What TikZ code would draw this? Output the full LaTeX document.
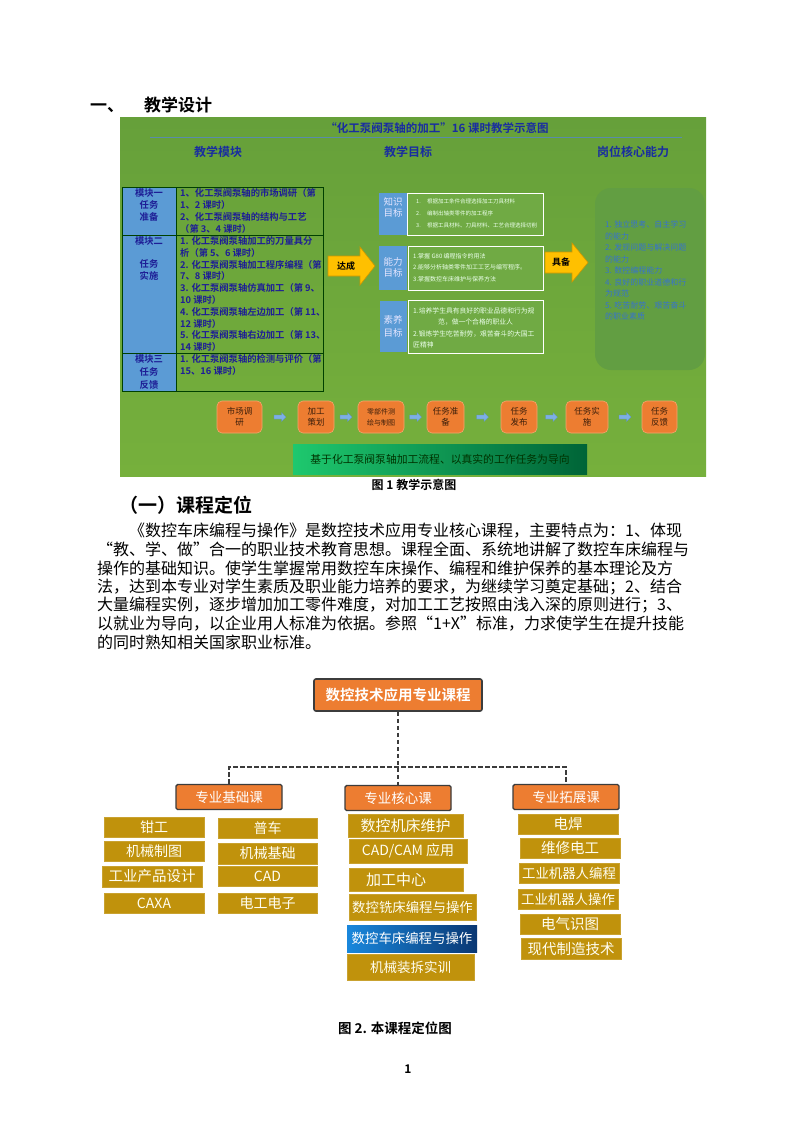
\documentclass[tikz,border=0pt]{standalone}
\usepackage{fontspec}
\setmainfont{Noto Sans CJK SC}[BoldFont={Noto Sans CJK SC Bold}]
\XeTeXinterchartokenstate=1
\XeTeXinterchartoks 1 1 = {\hskip 0pt plus 1pt\relax}
\XeTeXinterchartoks 1 2 = {\hskip 0pt plus 1pt\relax}
\XeTeXinterchartoks 1 3 = {\hskip 0pt plus 1pt\relax}
\XeTeXinterchartoks 3 1 = {\hskip 0pt plus 1pt\relax}
\XeTeXinterchartoks 3 2 = {\hskip 0pt plus 1pt\relax}
\XeTeXinterchartoks 2 1 = {\hskip 0pt plus 1pt\relax}
\XeTeXinterchartoks 0 1 = {\hskip 0pt plus 1pt\relax}
\XeTeXinterchartoks 1 0 = {\hskip 0pt plus 1pt\relax}
\XeTeXinterchartoks 3 0 = {\hskip 0pt plus 1pt\relax}
\XeTeXinterchartoks 0 3 = {\hskip 0pt plus 1pt\relax}
\usetikzlibrary{calc}
\newcommand\fs[2]{\fontsize{#1}{#2}\selectfont}
\definecolor{pgtop}{RGB}{102,160,58}
\definecolor{pgmid}{RGB}{140,198,76}
\definecolor{pgbot}{RGB}{118,176,60}
\definecolor{tblue}{RGB}{91,155,213}
\definecolor{tdark}{RGB}{30,30,150}
\definecolor{hblue}{RGB}{25,45,160}
\definecolor{lineblue}{RGB}{90,140,170}
\definecolor{ggreen}{RGB}{112,170,68}
\definecolor{rbox}{RGB}{98,158,66}
\definecolor{rtext}{RGB}{55,115,205}
\definecolor{arrfill}{RGB}{255,192,0}
\definecolor{arrdraw}{RGB}{205,150,0}
\definecolor{forange}{RGB}{237,125,49}
\definecolor{fborder}{RGB}{245,165,110}
\definecolor{ftext}{RGB}{60,30,10}
\definecolor{farrow}{RGB}{125,175,228}
\definecolor{farrowd}{RGB}{90,140,200}
\definecolor{bgl}{RGB}{30,200,110}
\definecolor{bgr}{RGB}{0,100,55}
\definecolor{orange2}{RGB}{237,125,49}
\definecolor{mustard}{RGB}{192,146,12}
\definecolor{blueL}{RGB}{25,135,220}
\definecolor{blueR}{RGB}{10,55,115}
\definecolor{dash}{RGB}{60,60,60}
\tikzset{
  tline/.style={draw=black!75!green, line width=0.7pt},
  ttext/.style={anchor=north west, align=left, inner sep=0pt, text=tdark},
  ltext/.style={anchor=north, align=center, inner sep=0pt, text=tdark, font=\fs{9.3}{12}\bfseries},
  hdr/.style={font=\fs{12}{14}\bfseries, text=hblue, inner sep=0pt},
  goalbox/.style={fill=ggreen, draw=white, line width=0.9pt, inner sep=0pt},
  labtext/.style={align=center, inner sep=0pt, text=white!90!blue, font=\fs{9.5}{11.5}},
  goaltext/.style={anchor=north west, align=left, inner sep=0pt, text=white!92!green},
  bigarrow/.style={fill=arrfill, draw=arrdraw, line width=0.6pt},
  flowbox/.style={rectangle, rounded corners=5pt, fill=forange, draw=fborder, line width=0.6pt,
     align=center, font=\fs{8.5}{11}, text=ftext, inner sep=0pt, minimum height=32pt},
  farr/.pic={\filldraw[fill=farrow, draw=farrowd, line width=0.3pt]
     (-6,-2) -- (1.5,-2) -- (1.5,-4.5) -- (6,0) -- (1.5,4.5) -- (1.5,2) -- (-6,2) -- cycle;},
  bodyline/.style={anchor=west, inner sep=0pt, font=\fs{16}{18}},
  topbox/.style={fill=orange2, draw=dash, line width=1.6pt, rounded corners=2pt, text=white,
     inner sep=0pt, font=\fs{14.5}{16}\bfseries},
  subbox/.style={fill=orange2, draw=dash, line width=1.4pt, rounded corners=1.5pt, text=white,
     inner sep=0pt, minimum width=106pt, minimum height=25pt, font=\fs{13.5}{15}},
  leaf/.style={fill=mustard, draw=mustard!85!white, line width=0.5pt, text=white!95!yellow,
     inner sep=0pt, font=\fs{14}{16}},
  conn/.style={draw=dash, line width=1.6pt, dash pattern=on 4.5pt off 2.5pt},
}
\begin{document}
\begin{tikzpicture}[x=1pt,y=-1pt]
\useasboundingbox (0,0) rectangle (793,1122);
\fill[white] (0,0) rectangle (793,1122);

% heading
\node[anchor=west, inner sep=0pt, font=\fs{17}{20}\bfseries] (h1) at (90,105) {一、\hspace{20pt}教学设计};

% ---------- Figure 1 panel ----------
\shade[top color=pgtop, middle color=pgmid, bottom color=pgbot] (120,117) rectangle (706,476);
\node[font=\fs{11.5}{13}\bfseries, text=hblue, inner sep=0pt] (title) at (437,128) {“化工泵阀泵轴的加工”16 课时教学示意图};
\draw[lineblue, line width=0.6pt] (150,137.5) -- (682,137.5);
\node[hdr] (hmod) at (218,152) {教学模块};
\node[hdr] (hgoal) at (408,152) {教学目标};
\node[hdr] (hcap) at (633,152) {岗位核心能力};

% table
\fill[tblue] (122,187) rectangle (176,391);
\draw[tline] (122,187) rectangle (323,391);
\draw[tline] (176,187) -- (176,391);
\draw[tline] (122,235) -- (323,235);
\draw[tline] (122,353) -- (323,353);
\node[ltext] (m1) at (149,188.5) {模块一\\任务\\准备};
\node[ltext] (m2a) at (149,236) {模块二};
\node[ltext] (m2b) at (149,259) {任务\\实施};
\node[ltext, font=\fs{9.3}{13}\bfseries] (m3) at (149,354.5) {模块三\\任务\\反馈};
\node[ttext, font=\fs{9.3}{11.8}\bfseries] (r1) at (180,188.5) {1、化工泵阀泵轴的市场调研（第\\1、2 课时）\\2、化工泵阀泵轴的结构与工艺\\（第 3、4 课时）};
\node[ttext, font=\fs{9.3}{11.8}\bfseries] (r2) at (180,236.3) {1. 化工泵阀泵轴加工的刀量具分\\析（第 5、6 课时）\\2. 化工泵阀泵轴加工程序编程（第\\7、8 课时）\\3. 化工泵阀泵轴仿真加工（第 9、\\10 课时）\\4. 化工泵阀泵轴左边加工（第 11、\\12 课时）\\5. 化工泵阀泵轴右边加工（第 13、\\14 课时）};
\node[ttext, font=\fs{9.3}{12}\bfseries] (r3) at (180,354.5) {1. 化工泵阀泵轴的检测与评价（第\\15、16 课时）};

% arrow 达成
\path[bigarrow] (328,256) -- (360,256) -- (360,247) -- (375,266) -- (360,285) -- (360,276) -- (328,276) -- cycle;
\node[font=\fs{9}{11}\bfseries, inner sep=0pt] (dacheng) at (346,266) {达成};

% goal boxes
\fill[tblue] (379,193) rectangle (407,235);
\fill[tblue] (379,246) rectangle (407,290);
\fill[tblue] (380,301) rectangle (407,352);
\path[goalbox] (407,193) rectangle (543,235);
\path[goalbox] (408,246) rectangle (543,290);
\path[goalbox] (408,300) rectangle (543,353);
\node[labtext] (k1) at (393,207.5) {知识\\目标};
\node[labtext] (k2) at (393,267.5) {能力\\目标};
\node[labtext, font=\fs{9.5}{13}] (k3) at (393,326.5) {素养\\目标};
\node[goaltext, font=\fs{5.5}{12}] (g1) at (416,198.5) {\makebox[11pt][l]{1.}根据加工条件合理选择加工刀具材料\\\makebox[11pt][l]{2.}编制出轴类零件的加工程序\\\makebox[11pt][l]{3.}根据工具材料、刀具材料、工艺合理选择切削};
\node[goaltext, font=\fs{6}{11.5}] (g2) at (413,253) {1.掌握 G80 编程指令的用法\\2.能够分析轴类零件加工工艺与编写程序。\\3.掌握数控车床维护与保养方法};
\node[goaltext, font=\fs{6.8}{11.3}] (g3) at (413,307.6) {1.培养学生具有良好的职业品德和行为规\\\hspace*{25pt}范，做一个合格的职业人\\2.锻炼学生吃苦耐劳，艰苦奋斗的大国工\\匠精神};

% arrow 具备
\path[bigarrow] (545,252) -- (572,252) -- (572,243) -- (588,262.5) -- (572,282) -- (572,273) -- (545,273) -- cycle;
\node[font=\fs{9}{11}\bfseries, inner sep=0pt] (jubei) at (561,262.5) {具备};

% right rounded box
\fill[rbox, rounded corners=16pt] (595,188) rectangle (705,370);
\node[anchor=north west, align=left, inner sep=0pt, text=rtext, font=\fs{8}{11.5}] (cap) at (605,221) {1. 独立思考、自主学习\\的能力\\2. 发现问题与解决问题\\的能力\\3. 数控编程能力\\4. 良好的职业道德和行\\为规范\\5. 吃苦耐劳、艰苦奋斗\\的职业素质};

% flow row
\node[flowbox, minimum width=45pt] (f1) at (239.5,417) {市场调\\研};
\node[flowbox, minimum width=36pt] (f2) at (316,417) {加工\\策划};
\node[flowbox, minimum width=46pt, font=\fs{7}{11}] (f3) at (381,417) {零部件测\\绘与制图};
\node[flowbox, minimum width=37pt] (f4) at (445.5,417) {任务准\\备};
\node[flowbox, minimum width=36pt] (f5) at (519,417) {任务\\发布};
\node[flowbox, minimum width=42pt] (f6) at (587,417) {任务实\\施};
\node[flowbox, minimum width=35pt] (f7) at (659.5,417) {任务\\反馈};
\foreach \a/\b in {f1/f2,f2/f3,f3/f4,f4/f5,f5/f6,f6/f7}
  \pic at ($(\a.east)!0.5!(\b.west)$) {farr};

% bottom green box
\shade[left color=bgl, right color=bgr] (293,444) rectangle (587,474);
\node[inner sep=0pt, font=\fs{10.8}{13}, text=black!80!green] (base) at (440,459) {基于化工泵阀泵轴加工流程、以真实的工作任务为导向};

% caption 1
\node[inner sep=0pt, font=\fs{12}{14}\bfseries] (cap1) at (414,484.5) {图 1 教学示意图};

% section heading
\node[anchor=west, inner sep=0pt, font=\fs{19}{22}\bfseries] (h2) at (119,505) {（一）课程定位};

% body paragraph
\node[bodyline] (b1) at (129,531) {\makebox[563pt][s]{《数控车床编程与操作》是数控技术应用专业核心课程，主要特点为：1、体现}};
\node[bodyline] (b2) at (97,549.5) {\makebox[595pt][s]{“教、学、做”合一的职业技术教育思想。课程全面、系统地讲解了数控车床编程与}};
\node[bodyline] (b3) at (97,568) {\makebox[595pt][s]{操作的基础知识。使学生掌握常用数控车床操作、编程和维护保养的基本理论及方}};
\node[bodyline] (b4) at (97,586.5) {\makebox[595pt][s]{法，达到本专业对学生素质及职业能力培养的要求，为继续学习奠定基础；2、结合}};
\node[bodyline] (b5) at (97,605) {\makebox[595pt][s]{大量编程实例，逐步增加加工零件难度，对加工工艺按照由浅入深的原则进行；3、}};
\node[bodyline] (b6) at (97,623.5) {\makebox[595pt][s]{以就业为导向，以企业用人标准为依据。参照“1+X”标准，力求使学生在提升技能}};
\node[bodyline] (b7) at (97,642) {的同时熟知相关国家职业标准。};

% ---------- Figure 2 ----------
\node[topbox, minimum width=168pt, minimum height=32pt] (top) at (398,695) {数控技术应用专业课程};
\node[subbox] (s1) at (229,797) {专业基础课};
\node[subbox] (s2) at (398,798) {专业核心课};
\node[subbox] (s3) at (566,797) {专业拓展课};
\coordinate (hl) at (398,767);
\draw[conn] (top.south) -- (s2.north);
\draw[conn] (s1.north) |- (hl) -| (s3.north);

% column 1
\node[leaf, minimum width=100pt, minimum height=20pt] (c11) at (154,827) {钳工};
\node[leaf, minimum width=100pt, minimum height=20pt] (c12) at (154,851) {机械制图};
\node[leaf, minimum width=100pt, minimum height=21pt, font=\fs{14.5}{16}] (c13) at (152,876.5) {工业产品设计};
\node[leaf, minimum width=100pt, minimum height=20pt] (c14) at (154,903) {CAXA};
% column 2
\node[leaf, minimum width=99pt, minimum height=20pt] (c21) at (267.5,828) {普车};
\node[leaf, minimum width=99pt, minimum height=21pt] (c22) at (267.5,853.5) {机械基础};
\node[leaf, minimum width=99pt, minimum height=20pt] (c23) at (267.5,876) {CAD};
\node[leaf, minimum width=99pt, minimum height=20pt] (c24) at (267.5,903) {电工电子};
% column 3
\node[leaf, minimum width=115pt, minimum height=23pt, font=\fs{15}{17}] (c31) at (405.5,825.5) {数控机床维护};
\node[leaf, minimum width=118pt, minimum height=24pt] (c32) at (408,851) {CAD/CAM 应用};
\node[leaf, minimum width=114pt, minimum height=23pt, font=\fs{15}{17}] (c33) at (406,879.5) {\hspace*{-20pt}加工中心};
\node[leaf, minimum width=127pt, minimum height=26pt, font=\fs{13.4}{15}] (c34) at (412.5,907) {数控铣床编程与操作};
\node[minimum width=130pt, minimum height=27pt, inner sep=0pt, left color=blueL, right color=blueR,
      text=white, font=\fs{13.4}{15}] (c35) at (412,938.5) {数控车床编程与操作};
\node[leaf, minimum width=127pt, minimum height=26pt, font=\fs{13.5}{15}] (c36) at (410.5,967) {机械装拆实训};
% column 4
\node[leaf, minimum width=100pt, minimum height=20pt, font=\fs{14.5}{16}] (c41) at (568,824) {电焊};
\node[leaf, minimum width=100pt, minimum height=20pt, font=\fs{14.5}{16}] (c42) at (570,848) {维修电工};
\node[leaf, minimum width=100pt, minimum height=20pt, font=\fs{13.4}{15}] (c43) at (569,873) {工业机器人编程};
\node[leaf, minimum width=100pt, minimum height=20pt, font=\fs{13.4}{15}] (c44) at (568,899) {工业机器人操作};
\node[leaf, minimum width=100pt, minimum height=20pt, font=\fs{14.5}{16}] (c45) at (570,924) {电气识图};
\node[leaf, minimum width=100pt, minimum height=21pt, font=\fs{14.5}{16}] (c46) at (571,948.5) {现代制造技术};

% caption 2 and page number
\node[inner sep=0pt, font=\fs{13.5}{15}\bfseries] (cap2) at (395,1028) {图 2. 本课程定位图};
\node[inner sep=0pt, font=\fs{12}{14}\bfseries] (pg) at (408,1069) {1};
\end{tikzpicture}
\end{document}
